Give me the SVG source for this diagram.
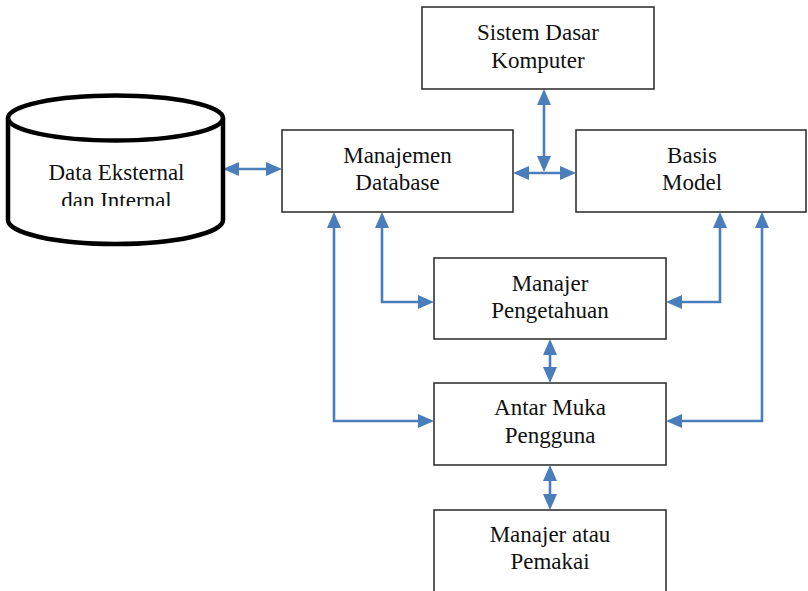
<svg xmlns="http://www.w3.org/2000/svg" width="808" height="591" viewBox="0 0 808 591">
<style>
.box{fill:#fff;stroke:#262626;stroke-width:1.5}
.lbl{font-family:"Liberation Serif","DejaVu Serif",serif;font-size:23px;fill:#111;text-anchor:middle}
.con{fill:none;stroke:#4a7ebb;stroke-width:2.6;marker-start:url(#ah);marker-end:url(#ah)}
</style>
<defs>
<marker id="ah" markerUnits="userSpaceOnUse" markerWidth="16" markerHeight="14" refX="6" refY="7" orient="auto-start-reverse" viewBox="0 0 16 14">
<path d="M0,0 L16,7 L0,14 z" fill="#4a7ebb"/>
</marker>
<clipPath id="cylclip"><rect x="0" y="90" width="260" height="116"/></clipPath>
</defs>
<rect width="808" height="591" fill="#fff"/>
<g id="connectors">
<path class="con" d="M233,169 L272,169"/>
<path class="con" d="M544,99 L544,162"/>
<path class="con" d="M523,173 L566,173"/>
<path class="con" d="M382,222 L382,302 L424,302"/>
<path class="con" d="M334,222 L334,421 L424,421"/>
<path class="con" d="M720,222 L720,302 L676,302"/>
<path class="con" d="M762,222 L762,421 L676,421"/>
<path class="con" d="M550,349 L550,373"/>
<path class="con" d="M550,475 L550,500"/>
</g>
<g id="data">
<path d="M8,118 A107.5,22.5 0 0 1 223,118 L223,220 A107.5,24 0 0 1 8,220 Z" fill="#fff" stroke="#000" stroke-width="4.5"/>
<path d="M8,118 A107.5,22.5 0 0 0 223,118" fill="none" stroke="#000" stroke-width="4.5"/>
<g clip-path="url(#cylclip)">
<text class="lbl" x="116.5" y="180">Data Eksternal</text>
<text class="lbl" x="116.5" y="208">dan Internal</text>
</g>
</g>
<g id="sistem">
<rect class="box" x="422" y="7" width="232" height="82"/>
<text class="lbl" x="538" y="40">Sistem Dasar</text>
<text class="lbl" x="538" y="68">Komputer</text>
</g>
<g id="manajemen">
<rect class="box" x="282" y="130" width="231" height="82"/>
<text class="lbl" x="397.5" y="163">Manajemen</text>
<text class="lbl" x="397.5" y="190">Database</text>
</g>
<g id="basis">
<rect class="box" x="576" y="130" width="230" height="82"/>
<text class="lbl" x="692" y="163">Basis</text>
<text class="lbl" x="692" y="190">Model</text>
</g>
<g id="pengetahuan">
<rect class="box" x="434" y="258" width="232" height="81"/>
<text class="lbl" x="550" y="291">Manajer</text>
<text class="lbl" x="550" y="318">Pengetahuan</text>
</g>
<g id="antarmuka">
<rect class="box" x="434" y="383" width="232" height="82"/>
<text class="lbl" x="550" y="415">Antar Muka</text>
<text class="lbl" x="550" y="443">Pengguna</text>
</g>
<g id="pemakai">
<rect class="box" x="434" y="510" width="232" height="100"/>
<text class="lbl" x="550" y="542">Manajer atau</text>
<text class="lbl" x="550" y="569">Pemakai</text>
</g>
</svg>
